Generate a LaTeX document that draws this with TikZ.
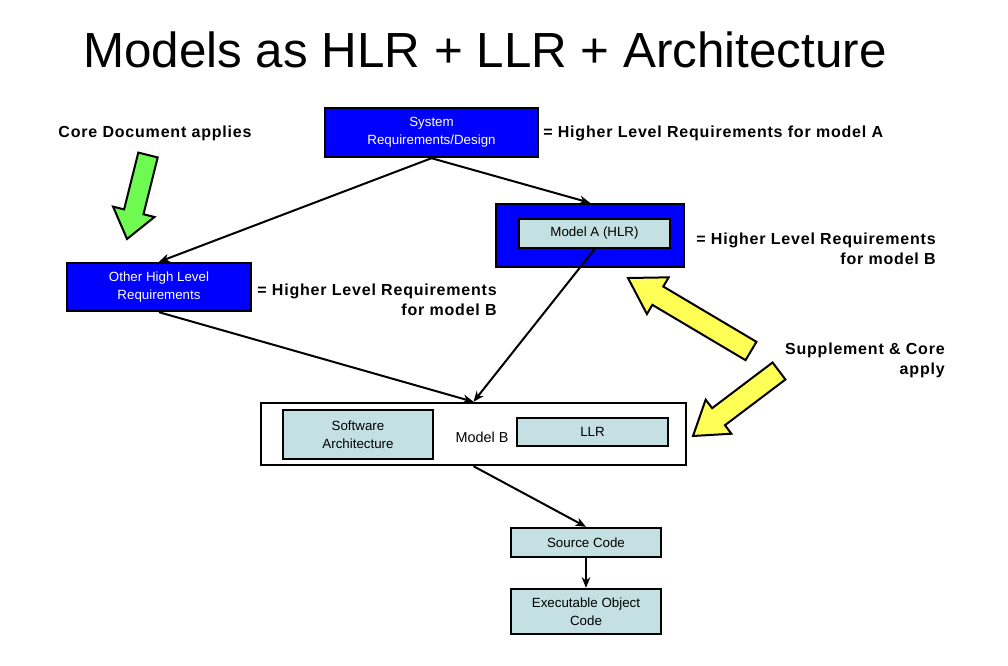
\documentclass[tikz,border=0pt]{standalone}
\usepackage{fontspec}
\setmainfont{Liberation Sans}
\newfontfamily\lblfont[LetterSpace=5]{Liberation Sans}
\usetikzlibrary{calc,arrows.meta}
\definecolor{boxblue}{RGB}{0,0,255}
\definecolor{cyanfill}{RGB}{196,224,226}
\definecolor{fatgreen}{RGB}{110,250,80}
\definecolor{fatyellow}{RGB}{255,255,85}
% tail, tip, shaft half width, head half width, head length, colour
\newcommand\fatarrow[6]{%
  \coordinate (fah) at ($(#2)!#5!(#1)$);
  \filldraw[fill=#6, draw=black, line width=1.5pt, line join=miter]
    ($(#1)!#3!90:(#2)$) -- ($(fah)!#3!90:(#2)$) -- ($(fah)!#4!90:(#2)$) -- (#2)
    -- ($(fah)!#4!-90:(#2)$) -- ($(fah)!#3!-90:(#2)$) -- ($(#1)!#3!-90:(#2)$) -- cycle;}
\begin{document}
\begin{tikzpicture}[x=0.75pt,y=-0.75pt,
  boxbase/.style={draw, line width=1.8pt, inner sep=0pt, align=center,
     font=\fontsize{10}{13.5}\selectfont},
  bluebox/.style={boxbase, fill=boxblue, text=white},
  cyanbox/.style={boxbase, fill=cyanfill},
  whitebox/.style={boxbase, fill=white},
  lbl/.style={inner sep=0pt, font=\lblfont\bfseries\fontsize{12}{15}\selectfont},
  conn/.style={line width=1.5pt, -{Stealth[length=8pt,width=6.5pt]}}]
\useasboundingbox (0,0) rectangle (1008,666);

\node[inner sep=0pt, font=\fontsize{37}{44}\selectfont] (title) at (485,50) {Models as HLR + LLR + Architecture};

\node[bluebox, minimum width=159.75pt, minimum height=36.75pt] (sys) at (431.5,132.5) {System\\Requirements/Design};
\node[bluebox, minimum width=138pt, minimum height=36pt] (other) at (159,287) {Other High Level\\Requirements};
\node[bluebox, minimum width=141pt, minimum height=47.25pt] (maO) at (590,235.5) {};
\node[cyanbox, minimum width=113.25pt, minimum height=21.75pt] (maI) at (594.5,233.5) {Model A (HLR)};
\node[whitebox, minimum width=318.75pt, minimum height=46.5pt] (mb) at (473.5,434) {};
\node[cyanbox, minimum width=112.5pt, minimum height=36.75pt] (arch) at (358,434.5) {Software\\Architecture};
\node[inner sep=0pt, font=\fontsize{10.8}{12}\selectfont] (mbl) at (482,437) {Model B};
\node[cyanbox, minimum width=113.25pt, minimum height=21pt] (llr) at (592.5,432) {LLR};
\node[cyanbox, minimum width=112.5pt, minimum height=21.75pt] (src) at (586,542.5) {Source Code};
\node[cyanbox, minimum width=112.5pt, minimum height=33.75pt] (exe) at (586,611.5) {Executable Object\\Code};

\node[lbl, anchor=west] (la) at (543,133) {= Higher Level Requirements for model A};
\node[lbl] (core) at (155,133) {Core Document applies};
\node[lbl, anchor=east, align=right] (lb1) at (497,300) {= Higher Level Requirements\\for model B};
\node[lbl, anchor=east, align=right] (lb2) at (936,249) {= Higher Level Requirements\\for model B};
\node[lbl, anchor=east, align=right] (supp) at (945,360) {Supplement \& Core\\apply};

\draw[conn] (sys.south) -- (other.north);
\draw[conn] (sys.south) -- (maO.north);
\draw[conn] (maI.south) -- (mb.north);
\draw[conn] (other.south) -- (mb.north);
\draw[conn] (mb.south) -- (src.north);
\draw[conn] (src.south) -- (exe.north);

\coordinate (gt) at (148,155);
\coordinate (gp) at (127,239);
\fatarrow{gt}{gp}{7.5pt}{16pt}{21pt}{fatgreen}
\coordinate (y1t) at (751,351);
\coordinate (y1p) at (628,278);
\fatarrow{y1t}{y1p}{8pt}{16pt}{26pt}{fatyellow}
\coordinate (y2t) at (779,371);
\coordinate (y2p) at (693,436);
\fatarrow{y2t}{y2p}{8pt}{16pt}{24pt}{fatyellow}
\end{tikzpicture}
\end{document}
